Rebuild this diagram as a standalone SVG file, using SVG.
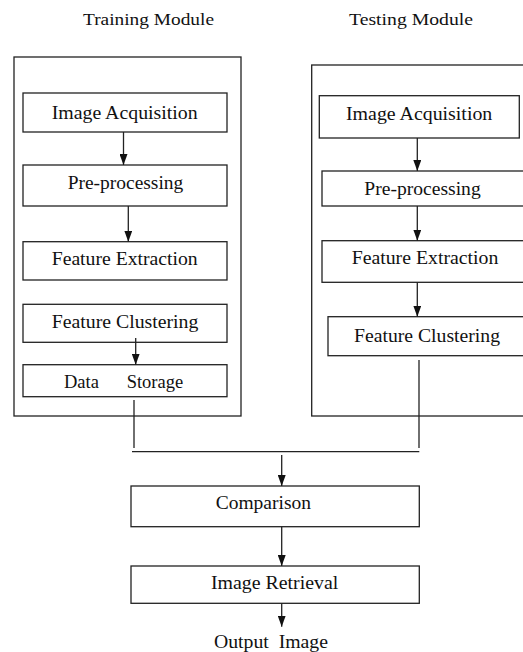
<svg xmlns="http://www.w3.org/2000/svg" width="523" height="652" viewBox="0 0 523 652">
<defs>
<marker id="ah" markerUnits="userSpaceOnUse" markerWidth="11" markerHeight="8" refX="11" refY="4" orient="auto">
<path d="M0,0 L11,4 L0,8 z" fill="#111"/>
</marker>
<style>
rect{fill:#fff;stroke:#222;stroke-width:1.3}
.c line{stroke:#222;stroke-width:1.3}
.a{marker-end:url(#ah)}
text{font-family:'Liberation Serif','DejaVu Serif',serif;fill:#111;font-size:18.5px}
.t{font-size:17.5px}
</style>
</defs>
<rect width="523" height="652" style="stroke:none"/>
<g font-family="Liberation Serif, serif">
<text class="t" x="83" y="25" textLength="131" lengthAdjust="spacingAndGlyphs">Training Module</text>
<text class="t" x="349" y="25" textLength="124" lengthAdjust="spacingAndGlyphs">Testing Module</text>
<g id="training-module"><rect x="14" y="57" width="227" height="359"/></g>
<g id="testing-module"><rect x="311.7" y="65" width="240" height="351"/></g>
<g id="tr-image-acquisition"><rect x="23" y="93" width="204" height="39"/><text x="51.7" y="118.5" textLength="146" lengthAdjust="spacingAndGlyphs">Image Acquisition</text></g>
<g id="tr-pre-processing"><rect x="23" y="165" width="204" height="41"/><text x="67.7" y="188.5" textLength="115.6" lengthAdjust="spacingAndGlyphs">Pre-processing</text></g>
<g id="tr-feature-extraction"><rect x="23" y="241.7" width="204" height="38.3"/><text x="51.7" y="265" textLength="146" lengthAdjust="spacingAndGlyphs">Feature Extraction</text></g>
<g id="tr-feature-clustering"><rect x="23" y="304.3" width="204" height="38"/><text x="51.7" y="327.7" textLength="146.7" lengthAdjust="spacingAndGlyphs">Feature Clustering</text></g>
<g id="tr-data-storage"><rect x="23" y="364.7" width="204" height="32"/><text x="64" y="388.3" xml:space="preserve">Data      Storage</text></g>
<g id="te-image-acquisition"><rect x="319.3" y="95.7" width="200" height="42.3"/><text x="346" y="119.5" textLength="146.3" lengthAdjust="spacingAndGlyphs">Image Acquisition</text></g>
<g id="te-pre-processing"><rect x="322" y="171" width="220" height="35"/><text x="364.3" y="195" textLength="116.4" lengthAdjust="spacingAndGlyphs">Pre-processing</text></g>
<g id="te-feature-extraction"><rect x="322" y="240.7" width="220" height="41.6"/><text x="351.7" y="264.3" textLength="146.6" lengthAdjust="spacingAndGlyphs">Feature Extraction</text></g>
<g id="te-feature-clustering"><rect x="328" y="316.7" width="220" height="39"/><text x="354" y="341.7" textLength="146" lengthAdjust="spacingAndGlyphs">Feature Clustering</text></g>
<g id="comparison"><rect x="131" y="486" width="288.3" height="40.7"/><text x="215.7" y="509.3" textLength="95.3" lengthAdjust="spacingAndGlyphs">Comparison</text></g>
<g id="image-retrieval"><rect x="131" y="566" width="288.3" height="37.3"/><text x="211" y="589.3" textLength="127.3" lengthAdjust="spacingAndGlyphs">Image Retrieval</text></g>
<g id="output-image"><text x="214" y="648" textLength="114" lengthAdjust="spacingAndGlyphs" xml:space="preserve">Output  Image</text></g>
</g>
<g id="connectors" class="c">
<line class="a" x1="123.5" y1="132" x2="123.5" y2="165"/>
<line class="a" x1="128.3" y1="206" x2="128.3" y2="241.7"/>
<line class="a" x1="135.7" y1="338" x2="135.7" y2="364.7"/>
<line x1="134" y1="400" x2="134" y2="448"/>
<line class="a" x1="417.3" y1="138" x2="417.3" y2="171"/>
<line class="a" x1="417.3" y1="206" x2="417.3" y2="240.7"/>
<line class="a" x1="417.3" y1="282.3" x2="417.3" y2="316.7"/>
<line x1="419" y1="360" x2="419" y2="448"/>
<line x1="132" y1="451.7" x2="419.3" y2="451.7"/>
<line class="a" x1="281.7" y1="455" x2="281.7" y2="486"/>
<line class="a" x1="281.7" y1="526.7" x2="281.7" y2="566"/>
<line class="a" x1="281.7" y1="603.3" x2="281.7" y2="626.7"/>
</g>
</svg>
